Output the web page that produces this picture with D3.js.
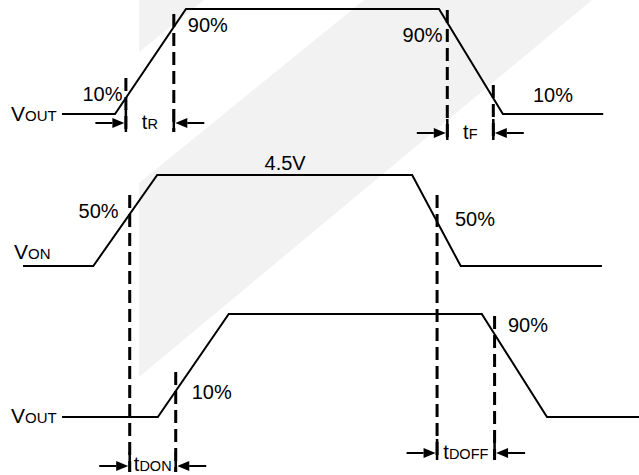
<!DOCTYPE html>
<html>
<head>
<meta charset="utf-8">
<script src="https://cdn.jsdelivr.net/npm/d3@7"></script>
<style>
  body { margin: 0; background: #fff; }
  text { font-family: "Liberation Sans", Arial, sans-serif; fill: #000; }
</style>
</head>
<body>
<svg id="chart"></svg>
<script>
// ---- data (time in arbitrary units 0..100, level normalised 0 = low, 1 = high) ----
const timeDomain = [0, 100];

const voutRiseFall = [[9.7, 0], [18.0, 0], [29.1, 1], [68.7, 1], [78.7, 0], [94.4, 0]];
const vonPulse     = [[3.6, 0], [14.6, 0], [24.6, 1], [64.5, 1], [72.1, 0], [94.2, 0]];
const voutDelayed  = [[9.7, 0], [24.7, 0], [35.8, 1], [75.4, 1], [85.6, 0], [100, 0]];

// measurement instants: [start, end]
const riseMarks     = [19.7, 27.2];
const fallMarks     = [70.0, 77.2];
const delayOnMarks  = [20.3, 27.5];
const delayOffMarks = [68.4, 77.4];

// level labels: [text, time, level]
const voutRiseFallLabels = [["10%", 12.9, 0.12], ["90%", 29.4, 0.78], ["90%", 63.0, 0.69], ["10%", 83.4, 0.11]];
const vonLabels          = [["50%", 12.3, 0.53], ["4.5V", 41.4, 1.06], ["50%", 71.2, 0.44]];
const voutDelayedLabels  = [["10%", 30.0, 0.17], ["90%", 79.5, 0.83]];

// ---- layout ----
const width = 639, height = 475;
const svg = d3.select('#chart').attr('width', width).attr('height', height);

const xscale = d3.scaleLinear().domain(timeDomain).range([0, width]);

const panels = [
  { wave: voutRiseFall, labels: voutRiseFallLabels, low: 114, high: 9,
    name: ['V', 'OUT'], nameX: 11, nameY: 121 },
  { wave: vonPulse, labels: vonLabels, low: 266, high: 175,
    name: ['V', 'ON'], nameX: 14, nameY: 259 },
  { wave: voutDelayed, labels: voutDelayedLabels, low: 417, high: 314,
    name: ['V', 'OUT'], nameX: 11, nameY: 423 }
];

const intervals = [
  { marks: riseMarks,     main: 't', sub: 'R',    arrowY: 123, top: [78, 14],   bottom: 132, textY: 129 },
  { marks: fallMarks,     main: 't', sub: 'F',    arrowY: 133, top: [10, 85],   bottom: 140, textY: 139 },
  { marks: delayOnMarks,  main: 't', sub: 'DON',  arrowY: 466, top: [195, 372], bottom: 472, textY: 471 },
  { marks: delayOffMarks, main: 't', sub: 'DOFF', arrowY: 453, top: [195, 316], bottom: 460, textY: 459 }
];

// faint background shapes
const bgShapes = [
  [[139, 0], [139, 52], [204, 0]],
  [[139, 183], [139, 377], [592, 0], [364, 0]]
];

svg.append('g').selectAll('polygon')
  .data(bgShapes)
  .enter()
  .append('polygon')
  .attr('points', d => d.map(p => p.join(',')).join(' '))
  .attr('fill', '#f2f2f2');

const line = d3.line();

panels.forEach(p => {
  p.yscale = d3.scaleLinear().domain([0, 1]).range([p.low, p.high]);
  const g = svg.append('g');

  g.append('path')
    .attr('d', line(p.wave.map(d => [xscale(d[0]), p.yscale(d[1])])))
    .attr('fill', 'none')
    .attr('stroke', '#000')
    .attr('stroke-width', 2);

  g.selectAll('text.lvl')
    .data(p.labels)
    .enter()
    .append('text')
    .attr('class', 'lvl')
    .attr('x', d => xscale(d[1]))
    .attr('y', d => p.yscale(d[2]))
    .style('font-size', '20px')
    .text(d => d[0]);

  const name = g.append('text')
    .attr('x', p.nameX)
    .attr('y', p.nameY);
  name.append('tspan').style('font-size', '21px').text(p.name[0]);
  name.append('tspan').style('font-size', '15px').text(p.name[1]);
});

// dashed measurement lines, arrows and interval labels
const mg = svg.append('g');

function arrow(tipX, y, dir) {
  // dir = 1 : arrow pointing right, -1 : pointing left
  const len = 29, head = 12, hw = 5;
  mg.append('line')
    .attr('x1', tipX - dir * len).attr('x2', tipX - dir * head)
    .attr('y1', y).attr('y2', y)
    .attr('stroke', '#000').attr('stroke-width', 2);
  mg.append('path')
    .attr('d', `M${tipX},${y}L${tipX - dir * head},${y - hw}L${tipX - dir * head},${y + hw}Z`)
    .attr('fill', '#000');
}

intervals.forEach(iv => {
  iv.marks.forEach((t, i) => {
    const x = xscale(t);
    mg.append('line')
      .attr('x1', x).attr('x2', x)
      .attr('y1', iv.top[i]).attr('y2', iv.bottom)
      .attr('stroke', '#000')
      .attr('stroke-width', 3)
      .attr('stroke-dasharray', '13,6');
    mg.append('line')
      .attr('x1', x).attr('x2', x)
      .attr('y1', iv.arrowY - 14).attr('y2', iv.bottom)
      .attr('stroke', '#000')
      .attr('stroke-width', 2.5);
  });
  const x0 = xscale(iv.marks[0]), x1 = xscale(iv.marks[1]);
  arrow(x0 - 1.5, iv.arrowY, 1);
  arrow(x1 + 1.5, iv.arrowY, -1);

  const lbl = mg.append('text')
    .attr('x', (x0 + x1) / 2)
    .attr('y', iv.textY)
    .attr('text-anchor', 'middle');
  lbl.append('tspan').style('font-size', '20px').text(iv.main);
  lbl.append('tspan').style('font-size', '14.5px').text(iv.sub);
});
</script>
</body>
</html>
